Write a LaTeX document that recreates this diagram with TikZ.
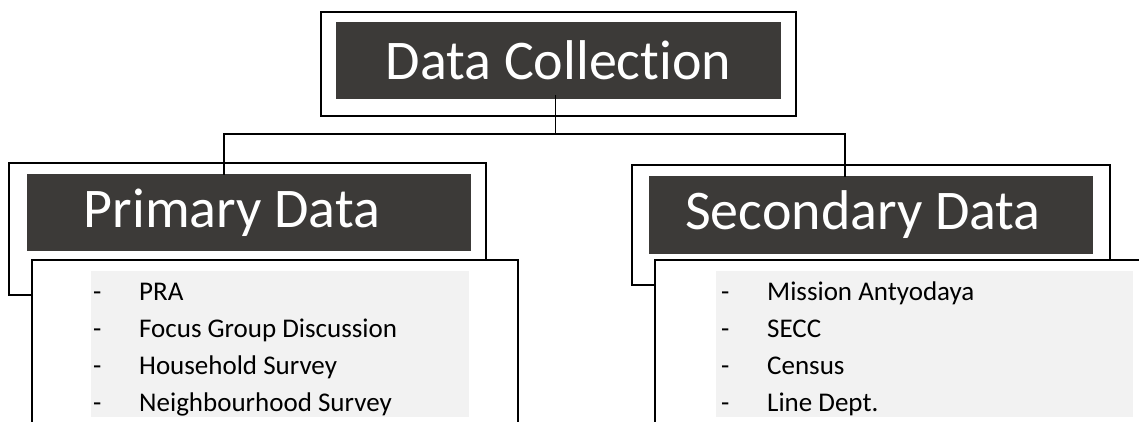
\documentclass[tikz,border=0pt]{standalone}
\usepackage{fontspec}
\setmainfont{Carlito}[RawFeature={-liga,-clig,-dlig}]
\definecolor{headdark}{RGB}{60,58,56}
\definecolor{listgray}{RGB}{242,242,242}
\begin{document}
\begin{tikzpicture}[x=1pt,y=-1pt,
  frame/.style={draw=black, line width=1.6pt, fill=white, inner sep=0pt, outer sep=0pt},
  head/.style={fill=headdark, text=white, inner sep=0pt, outer sep=0pt, minimum height=77pt, font=\fontsize{56}{60}\selectfont},
  conn/.style={draw=black, line width=1.6pt},
  graybox/.style={fill=listgray, inner sep=0pt, outer sep=0pt},
  item/.style={anchor=base west, inner sep=0pt, font=\fontsize{27}{37}\selectfont}
]
\useasboundingbox (0,0) rectangle (1139,421);
\clip (0,0) rectangle (1139,421);
\fill[white] (0,0) rectangle (1139,421);

% top
\node[frame, minimum width=475pt, minimum height=104pt] (dcframe) at (558.5,64) {};
\node[head, minimum width=445pt] (dc) at (558.5,60.5) {Data Collection};

% primary
\node[frame, minimum width=477pt, minimum height=132pt] (pframe) at (247.5,229) {};
\node[head, minimum width=444pt] (pd) at (249,212.5) {\hspace*{-34pt}Primary Data};

% secondary
\node[frame, minimum width=478pt, minimum height=120pt] (sframe) at (871,225) {};
\node[head, minimum width=444pt, minimum height=78pt] (sd) at (871,215) {\hspace*{-16pt}Secondary Data};

% connectors
\draw[conn] ([xshift=-3pt,yshift=4pt]dc.south) -- ++(0,39) coordinate (mid)
  -| ([xshift=-25pt,yshift=-1pt]pd.north);
\draw[conn] (mid) -| ([xshift=-26pt,yshift=-1pt]sd.north);

% item boxes
\node[frame, minimum width=486pt, minimum height=180pt] (pitems) at (275,350) {};
\node[frame, minimum width=505pt, minimum height=180pt] (sitems) at (907.5,350) {};

\node[graybox, minimum width=378pt, minimum height=146pt] (pg) at (280,344) {};
\node[graybox, minimum width=417pt, minimum height=146pt] (sg) at (924.5,344) {};

\begin{scope}
\clip (pg.north west) rectangle (pg.south east);
\node[item] (p1) at (93,300) {\makebox[46pt][l]{-}PRA};
\node[item] (p2) at (93,337) {\makebox[46pt][l]{-}Focus Group Discussion};
\node[item] (p3) at (93,374) {\makebox[46pt][l]{-}Household Survey};
\node[item] (p4) at (93,411) {\makebox[46pt][l]{-}Neighbourhood Survey};
\end{scope}
\begin{scope}
\clip (sg.north west) rectangle (sg.south east);
\node[item] (s1) at (721,300) {\makebox[46pt][l]{-}Mission Antyodaya};
\node[item] (s2) at (721,337) {\makebox[46pt][l]{-}SECC};
\node[item] (s3) at (721,374) {\makebox[46pt][l]{-}Census};
\node[item] (s4) at (721,411) {\makebox[46pt][l]{-}Line Dept.};
\end{scope}
\end{tikzpicture}
\end{document}
